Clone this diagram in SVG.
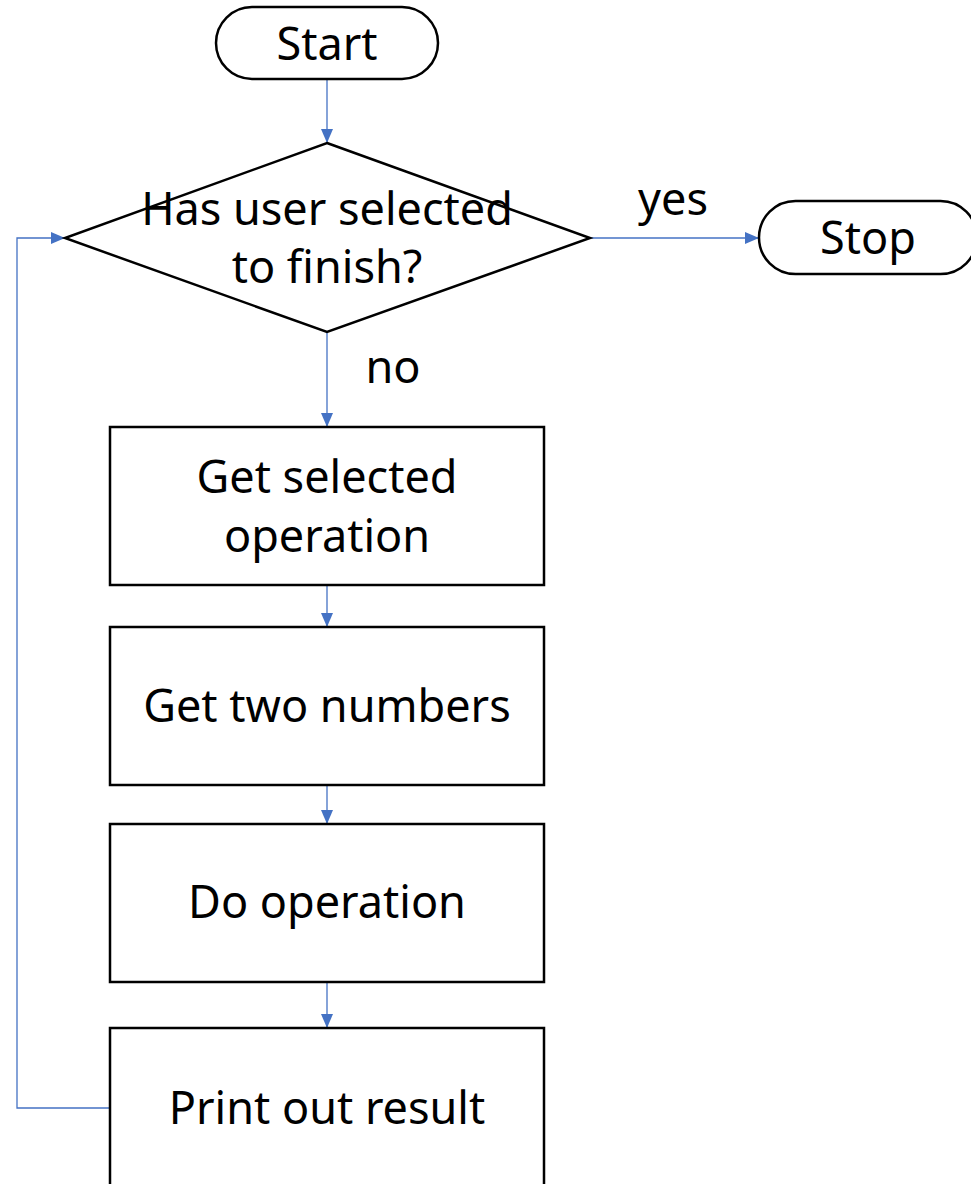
<svg xmlns="http://www.w3.org/2000/svg" width="971" height="1184" viewBox="0 0 971 1184">
<style>
.n{fill:#fff;stroke:#000;stroke-width:2.5}
.t{font-family:"Noto Sans","Open Sans","Liberation Sans",sans-serif;font-size:45px;fill:#000;text-anchor:middle}
.c{fill:none;stroke:#4472C4;stroke-width:1.3}
</style>
<defs>
<marker id="ah" markerWidth="14" markerHeight="12" refX="14" refY="6" orient="auto" markerUnits="userSpaceOnUse">
<path d="M0,0 L14,6 L0,12 Z" fill="#4472C4"/>
</marker>
</defs>
<rect width="971" height="1184" fill="#fff"/>
<g id="connectors">
<line class="c" x1="327" y1="80" x2="327" y2="143" marker-end="url(#ah)"/>
<line class="c" x1="590" y1="238" x2="759" y2="238" marker-end="url(#ah)"/>
<line class="c" x1="327" y1="332" x2="327" y2="427" marker-end="url(#ah)"/>
<line class="c" x1="327" y1="585" x2="327" y2="627" marker-end="url(#ah)"/>
<line class="c" x1="327" y1="785" x2="327" y2="824" marker-end="url(#ah)"/>
<line class="c" x1="327" y1="982" x2="327" y2="1028" marker-end="url(#ah)"/>
<polyline class="c" points="110,1108 17,1108 17,238 65,238" marker-end="url(#ah)"/>
<text class="t" x="673" y="215">yes</text>
<text class="t" x="393" y="383">no</text>
</g>
<g id="start">
<rect class="n" x="216" y="7" width="222" height="72" rx="36"/>
<text class="t" x="327" y="60">Start</text>
</g>
<g id="decision">
<polygon class="n" points="327,143 590,238 327,332 65,238"/>
<text class="t" x="327" y="225">Has user selected</text>
<text class="t" x="327" y="283">to finish?</text>
</g>
<g id="stop">
<rect class="n" x="759" y="201" width="218" height="73" rx="36.5"/>
<text class="t" x="868" y="254">Stop</text>
</g>
<g id="getop">
<rect class="n" x="110" y="427" width="434" height="158"/>
<text class="t" x="327" y="493">Get selected</text>
<text class="t" x="327" y="552">operation</text>
</g>
<g id="getnums">
<rect class="n" x="110" y="627" width="434" height="158"/>
<text class="t" x="327" y="722">Get two numbers</text>
</g>
<g id="doop">
<rect class="n" x="110" y="824" width="434" height="158"/>
<text class="t" x="327" y="918">Do operation</text>
</g>
<g id="print">
<rect class="n" x="110" y="1028" width="434" height="170"/>
<text class="t" x="327" y="1124">Print out result</text>
</g>
</svg>
